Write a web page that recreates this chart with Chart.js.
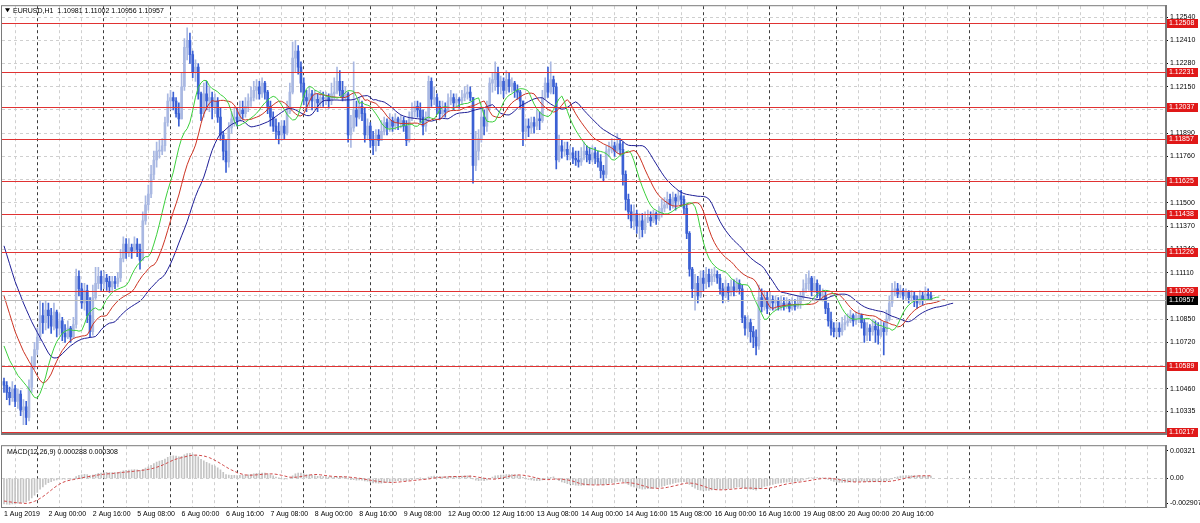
<!DOCTYPE html>
<html><head><meta charset="utf-8">
<script src="https://cdn.jsdelivr.net/npm/chart.js@4.4.1/dist/chart.umd.min.js"></script>
<style>
html,body{margin:0;padding:0;background:#fff;width:1200px;height:523px;overflow:hidden;}
#wrap{position:relative;width:1200px;height:523px;background:#fff;}
#c1{position:absolute;left:0;top:0;}
#c2{position:absolute;left:0;top:440px;}
</style></head><body><div id="wrap"><canvas id="c1" width="1200" height="440"></canvas><canvas id="c2" width="1200" height="83"></canvas></div>
<script>
const firstOpen = 1.1050;
const closes = [
1.1048,1.1044,1.1041,1.1046,1.1039,1.1043,1.1034,1.1036,1.1030,1.1047,1.1059,1.1068,1.1075,1.1087,1.1083,1.1090,
1.1087,1.1081,1.1089,1.1080,1.1084,1.1077,1.1075,1.1080,1.1075,1.1082,1.1109,1.1102,1.1094,1.1101,1.1087,1.1078,1.1097,1.1105,1.1109,1.1105,1.1108,1.1106,1.1103,1.1106,
1.1105,1.1108,1.1119,1.1127,1.1122,1.1125,1.1123,1.1127,1.1124,1.1118,1.1140,1.1149,1.1155,1.1166,1.1174,1.1179,1.1179,1.1182,1.1195,1.1207,1.1209,1.1207,1.1200,1.1197,
1.1215,1.1237,1.1241,1.1233,1.1223,1.1226,1.1211,1.1200,1.1211,1.1207,1.1209,1.1204,1.1207,1.1198,1.1188,1.1179,1.1173,1.1192,1.1197,1.1198,1.1196,1.1202,1.1200,1.1204,
1.1207,1.1209,1.1213,1.1215,1.1211,1.1217,1.1212,1.1204,1.1198,1.1193,1.1190,1.1188,1.1193,1.1189,1.1201,1.1212,1.1231,1.1235,1.1226,1.1217,1.1209,1.1207,1.1211,1.1207,
1.1208,1.1206,1.1209,1.1208,1.1209,1.1207,1.1211,1.1212,1.1218,1.1213,1.1209,1.1211,1.1188,1.1192,1.1202,1.1198,1.1204,1.1200,1.1188,1.1193,1.1185,1.1182,1.1188,1.1185,
1.1190,1.1195,1.1192,1.1196,1.1193,1.1197,1.1195,1.1196,1.1193,1.1185,1.1197,1.1201,1.1204,1.1202,1.1198,1.1193,1.1197,1.1218,1.1208,1.1209,1.1204,1.1200,1.1202,1.1201,
1.1207,1.1209,1.1206,1.1208,1.1207,1.1209,1.1211,1.1212,1.1209,1.1171,1.1179,1.1186,1.1198,1.1193,1.1204,1.1217,1.1219,1.1223,1.1215,1.1218,1.1213,1.1219,1.1215,1.1217,
1.1213,1.1212,1.1207,1.1190,1.1193,1.1192,1.1195,1.1193,1.1197,1.1196,1.1209,1.1217,1.1212,1.1219,1.1215,1.1174,1.1182,1.1179,1.1180,1.1177,1.1178,1.1175,1.1174,1.1173,
1.1175,1.1179,1.1177,1.1174,1.1178,1.1175,1.1173,1.1168,1.1166,1.1179,1.1180,1.1182,1.1179,1.1183,1.1180,1.1166,1.1152,1.1145,1.1140,1.1144,1.1137,1.1140,1.1135,1.1141,
1.1142,1.1140,1.1144,1.1141,1.1144,1.1147,1.1149,1.1152,1.1149,1.1153,1.1151,1.1154,1.1152,1.1147,1.1133,1.1113,1.1102,1.1105,1.1098,1.1108,1.1105,1.1110,1.1106,1.1109,
1.1110,1.1108,1.1102,1.1098,1.1103,1.1100,1.1103,1.1101,1.1105,1.1102,1.1086,1.1080,1.1083,1.1078,1.1075,1.1070,1.1097,1.1092,1.1097,1.1091,1.1096,1.1094,1.1095,1.1092,
1.1094,1.1092,1.1094,1.1091,1.1093,1.1092,1.1094,1.1097,1.1102,1.1105,1.1108,1.1101,1.1105,1.1100,1.1098,1.1098,1.1091,1.1084,1.1080,1.1078,1.1080,1.1078,1.1082,1.1083,
1.1084,1.1087,1.1084,1.1085,1.1087,1.1083,1.1076,1.1080,1.1078,1.1081,1.1079,1.1076,1.1080,1.1078,1.1085,1.1094,1.1101,1.1102,1.1099,1.1101,1.1098,1.1100,1.1097,1.1098,
1.1096,1.1094,1.1098,1.1096,1.1099,1.10981,1.10957];
const highs = [
1.1052,1.1050,1.1047,1.1050,1.1048,1.1046,1.1045,1.1040,1.1039,1.1051,1.1064,1.1072,1.1080,1.1095,1.1094,1.1095,
1.1094,1.1091,1.1094,1.1090,1.1088,1.1086,1.1082,1.1084,1.1081,1.1086,1.1113,1.1112,1.1105,1.1105,1.1104,1.1097,1.1104,1.1114,1.1114,1.1112,1.1112,1.1110,1.1109,1.1109,
1.1109,1.1111,1.1124,1.1131,1.1130,1.1130,1.1127,1.1131,1.1130,1.1127,1.1145,1.1154,1.1160,1.1171,1.1179,1.1184,1.1185,1.1186,1.1198,1.1211,1.1213,1.1212,1.1209,1.1206,
1.1223,1.1242,1.1248,1.1245,1.1235,1.1230,1.1228,1.1212,1.1217,1.1218,1.1215,1.1212,1.1211,1.1209,1.1203,1.1190,1.1185,1.1195,1.1201,1.1203,1.1203,1.1207,1.1207,1.1209,
1.1211,1.1215,1.1218,1.1219,1.1218,1.1220,1.1218,1.1213,1.1207,1.1201,1.1197,1.1195,1.1196,1.1196,1.1207,1.1217,1.1240,1.1241,1.1238,1.1229,1.1220,1.1213,1.1215,1.1213,
1.1213,1.1211,1.1213,1.1212,1.1212,1.1211,1.1217,1.1220,1.1226,1.1224,1.1218,1.1215,1.1212,1.1199,1.1229,1.1207,1.1209,1.1207,1.1203,1.1197,1.1195,1.1190,1.1191,1.1191,
1.1196,1.1198,1.1197,1.1200,1.1198,1.1200,1.1198,1.1199,1.1198,1.1196,1.1201,1.1206,1.1207,1.1207,1.1206,1.1202,1.1201,1.1221,1.1220,1.1215,1.1211,1.1207,1.1207,1.1206,
1.1211,1.1213,1.1211,1.1211,1.1209,1.1213,1.1215,1.1216,1.1215,1.1209,1.1190,1.1191,1.1204,1.1202,1.1207,1.1220,1.1223,1.1229,1.1226,1.1221,1.1220,1.1224,1.1223,1.1220,
1.1218,1.1216,1.1213,1.1207,1.1197,1.1197,1.1198,1.1198,1.1202,1.1201,1.1213,1.1220,1.1226,1.1229,1.1221,1.1217,1.1188,1.1185,1.1184,1.1184,1.1182,1.1181,1.1179,1.1179,
1.1181,1.1184,1.1182,1.1181,1.1182,1.1181,1.1179,1.1177,1.1171,1.1182,1.1184,1.1186,1.1184,1.1189,1.1186,1.1184,1.1168,1.1155,1.1149,1.1149,1.1146,1.1144,1.1144,1.1145,
1.1146,1.1145,1.1146,1.1145,1.1148,1.1152,1.1153,1.1156,1.1155,1.1156,1.1155,1.1157,1.1157,1.1154,1.1149,1.1134,1.1114,1.1110,1.1109,1.1112,1.1112,1.1114,1.1113,1.1113,
1.1114,1.1112,1.1110,1.1105,1.1107,1.1105,1.1107,1.1107,1.1108,1.1107,1.1104,1.1087,1.1087,1.1085,1.1081,1.1079,1.1104,1.1102,1.1101,1.1100,1.1100,1.1098,1.1098,1.1097,
1.1098,1.1097,1.1097,1.1096,1.1097,1.1096,1.1098,1.1100,1.1107,1.1110,1.1112,1.1109,1.1109,1.1107,1.1104,1.1102,1.1100,1.1094,1.1089,1.1083,1.1083,1.1083,1.1086,1.1087,
1.1088,1.1090,1.1088,1.1089,1.1090,1.1088,1.1085,1.1083,1.1082,1.1085,1.1084,1.1083,1.1084,1.1083,1.1090,1.1098,1.1105,1.1106,1.1105,1.1104,1.1102,1.1102,1.1101,1.1101,
1.1100,1.1098,1.1101,1.1100,1.1103,1.1102,1.11002];
const lows = [
1.1044,1.1040,1.1037,1.1039,1.1036,1.1035,1.1031,1.1026,1.1026,1.1028,1.1044,1.1057,1.1065,1.1073,1.1077,1.1079,
1.1080,1.1077,1.1079,1.1075,1.1076,1.1073,1.1072,1.1074,1.1072,1.1074,1.1080,1.1098,1.1091,1.1090,1.1083,1.1075,1.1076,1.1096,1.1102,1.1101,1.1102,1.1101,1.1100,1.1101,
1.1102,1.1103,1.1106,1.1117,1.1119,1.1120,1.1119,1.1122,1.1120,1.1113,1.1118,1.1138,1.1146,1.1153,1.1163,1.1170,1.1175,1.1177,1.1179,1.1193,1.1202,1.1202,1.1198,1.1193,
1.1197,1.1213,1.1230,1.1228,1.1220,1.1218,1.1208,1.1196,1.1198,1.1202,1.1201,1.1197,1.1200,1.1195,1.1185,1.1174,1.1167,1.1170,1.1189,1.1193,1.1193,1.1196,1.1197,1.1198,
1.1201,1.1204,1.1207,1.1208,1.1208,1.1209,1.1208,1.1200,1.1193,1.1190,1.1186,1.1183,1.1185,1.1186,1.1188,1.1200,1.1211,1.1223,1.1222,1.1212,1.1205,1.1201,1.1204,1.1202,
1.1203,1.1201,1.1204,1.1204,1.1205,1.1203,1.1205,1.1208,1.1211,1.1210,1.1207,1.1207,1.1184,1.1181,1.1190,1.1193,1.1197,1.1196,1.1184,1.1186,1.1181,1.1177,1.1179,1.1182,
1.1185,1.1188,1.1188,1.1190,1.1190,1.1191,1.1191,1.1192,1.1190,1.1182,1.1184,1.1196,1.1198,1.1198,1.1195,1.1188,1.1190,1.1196,1.1204,1.1205,1.1200,1.1197,1.1198,1.1198,
1.1202,1.1205,1.1202,1.1204,1.1203,1.1205,1.1207,1.1208,1.1207,1.1161,1.1168,1.1174,1.1184,1.1188,1.1190,1.1202,1.1212,1.1213,1.1211,1.1211,1.1209,1.1211,1.1212,1.1212,
1.1209,1.1208,1.1203,1.1182,1.1186,1.1187,1.1189,1.1189,1.1191,1.1191,1.1195,1.1208,1.1209,1.1211,1.1211,1.1169,1.1173,1.1175,1.1176,1.1174,1.1174,1.1172,1.1171,1.1170,
1.1171,1.1174,1.1173,1.1172,1.1173,1.1172,1.1170,1.1164,1.1162,1.1164,1.1176,1.1178,1.1176,1.1178,1.1177,1.1160,1.1146,1.1141,1.1136,1.1135,1.1133,1.1130,1.1131,1.1133,
1.1139,1.1137,1.1139,1.1138,1.1140,1.1142,1.1145,1.1147,1.1146,1.1147,1.1146,1.1149,1.1148,1.1144,1.1130,1.1109,1.1097,1.1090,1.1094,1.1097,1.1101,1.1102,1.1103,1.1104,
1.1106,1.1105,1.1099,1.1094,1.1097,1.1095,1.1098,1.1098,1.1100,1.1099,1.1083,1.1076,1.1075,1.1072,1.1069,1.1065,1.1068,1.1089,1.1090,1.1088,1.1090,1.1090,1.1090,1.1090,
1.1090,1.1090,1.1091,1.1089,1.1090,1.1090,1.1091,1.1091,1.1096,1.1100,1.1101,1.1098,1.1100,1.1097,1.1096,1.1095,1.1088,1.1081,1.1076,1.1075,1.1075,1.1075,1.1076,1.1079,
1.1081,1.1083,1.1081,1.1082,1.1083,1.1080,1.1072,1.1073,1.1073,1.1076,1.1072,1.1071,1.1075,1.1065,1.1076,1.1084,1.1092,1.1098,1.1097,1.1097,1.1096,1.1096,1.1094,1.1095,
1.1092,1.1091,1.1093,1.1093,1.1096,1.1096,1.10956];

const jawLead   = [1.1126,1.1121,1.1116,1.1111,1.1106,1.1102,1.1098,1.1094];
const teethLead = [1.1098,1.1093,1.1088,1.1083,1.1078];
const lipsLead  = [1.1070,1.1066,1.1062];
const ema12Seed = 1.1083, ema26Seed = 1.1112, macdPriorFill = -0.0026;

const levels = [1.12508,1.12231,1.12037,1.11857,1.11625,1.11438,1.11226,1.11009,1.10589,1.10217];
const lastPrice = 1.10957;
const priceTicks = [1.12540,1.12410,1.12280,1.12150,1.12020,1.11890,1.11760,1.11630,1.11500,1.11370,1.11240,1.11110,1.10980,1.10850,1.10720,1.10590,1.10460,1.10335];
const priceTickLabels = ['1.12540','1.12410','1.12280','1.12150','1.12020','1.11890','1.11760','1.11630','1.11500','1.11370','1.11240','1.11110','1.10980','1.10850','1.10720','1.10590','1.10460','1.10335'];
const macdTicks = [0.00321, 0, -0.002907];
const macdTickLabels = ['0.00321','0.00','-0.002907'];
const timeLabels = ['1 Aug 2019','2 Aug 00:00','2 Aug 16:00','5 Aug 08:00','6 Aug 00:00','6 Aug 16:00','7 Aug 08:00','8 Aug 00:00','8 Aug 16:00','9 Aug 08:00','12 Aug 00:00','12 Aug 16:00','13 Aug 08:00','14 Aug 00:00','14 Aug 16:00','15 Aug 08:00','16 Aug 00:00','16 Aug 16:00','19 Aug 08:00','20 Aug 00:00','20 Aug 16:00'];
const titleText = 'EURUSD,H1  1.10981 1.11002 1.10956 1.10957';
const macdText = 'MACD(12,26,9) 0.000288 0.000308';
const labelStep = 16, gridStep = 8, daySepFirst = 16, daySepStep = 24, daySepLast = 352;

const N = closes.length;
const opens = closes.map((c,i)=> i===0 ? firstOpen : closes[i-1]);
const idx = closes.map((_,i)=>i);
const BULL = '#a9b8e2', BEAR = '#3b60d4';
const cColors = idx.map(i => closes[i] >= opens[i] ? BULL : BEAR);
const wickData = idx.map(i=>({x:i, y:[Math.min(lows[i],opens[i],closes[i]), Math.max(highs[i],opens[i],closes[i])]}));
const bodyData = idx.map(i=>({x:i, y:[opens[i], closes[i]]}));

function alligatorLine(lead, period){
  const out = lead.map((v,i)=>({x:i,y:v}));
  const shift = lead.length;
  let s = lead[shift-1];
  for (let i=0;i<N;i++){ const med=(highs[i]+lows[i])/2; s=(s*(period-1)+med)/period; out.push({x:i+shift,y:s}); }
  return out;
}
const jaw = alligatorLine(jawLead,13), teeth = alligatorLine(teethLead,8), lips = alligatorLine(lipsLead,5);

let e12=ema12Seed, e26=ema26Seed; const macd=[];
for (let i=0;i<N;i++){ e12 += (2/13)*(closes[i]-e12); e26 += (2/27)*(closes[i]-e26); macd.push(e12-e26); }
const signal = macd.map((_,i)=>{ let s=0; for(let j=i-8;j<=i;j++) s += j>=0?macd[j]:macdPriorFill; return s/9; });

const X_MIN = -0.72, X_MAX = 418.7;
const xGrid = []; for (let b=0;b<=X_MAX;b+=gridStep) xGrid.push(b);
const isDaySep = v => v>=daySepFirst && (v-daySepFirst)%daySepStep===0 && v<=daySepLast;
const gridColor = c => {
  if (!c || !c.tick) return 'rgba(0,0,0,0)';
  const v = c.tick.value;
  return v===0 ? 'rgba(0,0,0,0)' : (isDaySep(v) ? '#3c3c3c' : '#cfcfcf');
};
const FONT_FAMILY = '"Liberation Sans", Arial, sans-serif';
const TXT = '7px ' + FONT_FAMILY;
Chart.defaults.font.family = FONT_FAMILY;
Chart.defaults.font.size = 7;
Chart.defaults.color = '#000';

const framePlugin = {
  id:'frame',
  afterDraw(chart){
    const {ctx, chartArea:a} = chart;
    ctx.save(); ctx.strokeStyle='#7a7a7a'; ctx.lineWidth=1;
    ctx.strokeRect(a.left-0.5, a.top-0.5, a.right-a.left+1, a.bottom-a.top+1);
    ctx.restore();
  }
};

const levelsPlugin = {
  id:'levels',
  afterDatasetsDraw(chart){
    const {ctx, chartArea:a, scales:{y}} = chart;
    ctx.save();
    ctx.fillStyle='#b8b8b8';
    ctx.fillRect(a.left, Math.round(y.getPixelForValue(lastPrice)), a.right-a.left, 1);
    ctx.fillStyle='#e03232';
    levels.forEach(v=>{ ctx.fillRect(a.left, Math.round(y.getPixelForValue(v)), a.right-a.left, 1); });
    ctx.restore();
  },
  afterDraw(chart){
    const {ctx, chartArea:a, scales:{y}} = chart;
    ctx.save();
    ctx.font = TXT; ctx.textBaseline='middle'; ctx.textAlign='left';
    const box = (v, bg) => {
      const p = y.getPixelForValue(v);
      ctx.fillStyle = bg; ctx.fillRect(a.right+1, Math.round(p)-4, 31, 9);
      ctx.fillStyle = '#fff'; ctx.fillText(v.toFixed(5), a.right+3, Math.round(p)+0.5);
    };
    levels.forEach(v=>box(v,'#e01818'));
    box(lastPrice,'#000');
    ctx.fillStyle='#000';
    ctx.beginPath(); ctx.moveTo(a.left+3,a.top+2); ctx.lineTo(a.left+8,a.top+2); ctx.lineTo(a.left+5.5,a.top+6); ctx.closePath(); ctx.fill();
    ctx.fillText(titleText, a.left+11, a.top+4.5);
    ctx.restore();
  }
};

new Chart(document.getElementById('c1'), {
  type:'bar',
  data:{ datasets:[
    {type:'line', data:lips, borderColor:'#3ccf3c', borderWidth:1, pointRadius:0, tension:0, order:1},
    {type:'line', data:teeth, borderColor:'#cc3322', borderWidth:1, pointRadius:0, tension:0, order:1},
    {type:'line', data:jaw, borderColor:'#1e1e96', borderWidth:1, pointRadius:0, tension:0, order:1},
    {data:bodyData, backgroundColor:cColors, barThickness:2, minBarLength:1, grouped:false, order:2},
    {data:wickData, backgroundColor:cColors, barThickness:1, grouped:false, order:3}
  ]},
  options:{
    responsive:false, animation:false, devicePixelRatio:1,
    layout:{padding:{left:2, top:3, right:0, bottom:2}},
    plugins:{legend:{display:false}, tooltip:{enabled:false}},
    scales:{
      x:{type:'linear', min:X_MIN, max:X_MAX, offset:false,
         afterBuildTicks:s=>{ s.ticks = xGrid.map(v=>({value:v})); },
         afterFit:s=>{ s.height = 0; },
         ticks:{display:false},
         grid:{color:gridColor, drawTicks:false, lineWidth:1},
         border:{display:true, color:'#7a7a7a', width:2, dash:[3,3]}},
      y:{type:'linear', position:'right', min:1.102085, max:1.126005,
         afterBuildTicks:s=>{ s.ticks = priceTicks.map(v=>({value:v})); },
         afterFit:s=>{ s.width = 34; },
         ticks:{callback:(v,i)=>priceTickLabels[i], padding:2, font:{size:7}, color:'#000'},
         grid:{color:'#cfcfcf', drawTicks:true, tickLength:2, tickColor:'#000', tickBorderDash:[]},
         border:{display:true, color:'#7a7a7a', width:2, dash:[3,3]}}
    }
  },
  plugins:[levelsPlugin, framePlugin]
});

const macdPlugin = {
  id:'macdText',
  afterDraw(chart){
    const {ctx, chartArea:a} = chart;
    ctx.save(); ctx.font=TXT; ctx.fillStyle='#000'; ctx.textBaseline='middle'; ctx.textAlign='left';
    ctx.fillText(macdText, a.left+5, a.top+6);
    ctx.restore();
  }
};

new Chart(document.getElementById('c2'), {
  type:'bar',
  data:{ datasets:[
    {type:'line', data:signal.map((v,i)=>({x:i,y:v})), borderColor:'#d04848', borderWidth:1, borderDash:[3,2], pointRadius:0, tension:0, order:1},
    {data:macd.map((v,i)=>({x:i,y:v})), backgroundColor:'#c4c4c4', barThickness:1, grouped:false, order:2}
  ]},
  options:{
    responsive:false, animation:false, devicePixelRatio:1,
    layout:{padding:{left:2, top:1, right:0, bottom:0}},
    plugins:{legend:{display:false}, tooltip:{enabled:false}},
    scales:{
      x:{type:'linear', min:X_MIN, max:X_MAX, offset:false,
         afterBuildTicks:s=>{ s.ticks = xGrid.map(v=>({value:v})); },
         afterFit:s=>{ s.height = 16; },
         ticks:{autoSkip:false, maxRotation:0, minRotation:0, align:'start', padding:3, color:'#000', font:{size:7},
                callback:v=> (v%labelStep===0 && v/labelStep < timeLabels.length) ? timeLabels[v/labelStep] : ''},
         grid:{color:gridColor, drawTicks:false, lineWidth:1},
         border:{display:true, color:'#7a7a7a', width:1, dash:[3,3]}},
      y:{type:'linear', position:'right', min:-0.003336, max:0.003747,
         afterBuildTicks:s=>{ s.ticks = macdTicks.map(v=>({value:v})); },
         afterFit:s=>{ s.width = 34; },
         ticks:{callback:(v,i)=>macdTickLabels[i], padding:2, font:{size:7}, color:'#000'},
         grid:{color:c=>(c && c.tick && c.tick.value===0) ? '#cfcfcf' : 'rgba(0,0,0,0)', drawTicks:true, tickLength:2, tickColor:'#000', tickBorderDash:[]},
         border:{display:true, color:'#7a7a7a', width:2, dash:[3,3]}}
    }
  },
  plugins:[macdPlugin, framePlugin]
});
</script>
</body></html>
